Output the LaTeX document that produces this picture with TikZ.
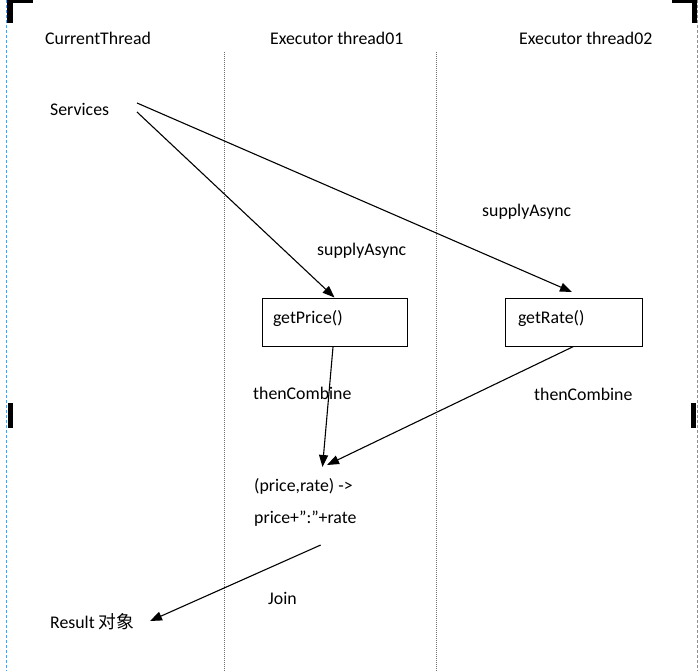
\documentclass[tikz,border=0pt]{standalone}
\usepackage{fontspec}
\setmainfont{Carlito}
\newfontfamily\cjk{Noto Sans CJK SC}
\usetikzlibrary{arrows.meta}
\definecolor{guideblue}{RGB}{91,155,213}
\definecolor{laneg}{RGB}{110,110,110}
\begin{document}
\begin{tikzpicture}[x=1pt,y=-1pt,
  txt/.style={anchor=base west,inner sep=0pt,font=\fontsize{17.8}{20}\selectfont},
  fnbox/.style={draw=black,line width=1pt,inner xsep=11pt,inner ysep=0pt,
     minimum height=48pt,align=left,text height=11pt,text depth=9pt,
     font=\fontsize{17.8}{20}\selectfont},
  conn/.style={draw=black,line width=1.1pt,-{Triangle[length=12pt,width=9pt]}},
  lane/.style={draw=laneg,line width=1pt,dash pattern=on 1pt off 1pt},
  guide/.style={draw=guideblue,line width=1pt,dash pattern=on 3pt off 2pt},
  cropmark/.style={fill=black,draw=none}]
\useasboundingbox (0,0) rectangle (698,671);
% page guides
\draw[guide] (6.5,0) -- (6.5,671);
\draw[guide] (697.2,0) -- (697.2,671);
\fill[cropmark] (7.3,0) rectangle (33.3,3.3);
\fill[cropmark] (7.3,0) rectangle (13.3,22.7);
\fill[cropmark] (672,0) rectangle (697,3.3);
\fill[cropmark] (691.5,0) rectangle (697,22.7);
\fill[cropmark] (8,403) rectangle (12.7,428);
\fill[cropmark] (691,403) rectangle (696,428);
% lanes
\draw[lane] (224,52) -- (224,671);
\draw[lane] (436,52) -- (436,671);
% headers
\node[txt] (h0) at (45,45) {CurrentThread};
\node[txt] (h1) at (270,45) {Executor thread01};
\node[txt] (h2) at (519,45) {Executor thread02};
% texts
\node[txt] (svc) at (50,116) {Services};
\node[txt] (sa2) at (482,216) {supplyAsync};
\node[txt] (sa1) at (317,255) {supplyAsync};
\node[txt] (tc1) at (253,399) {thenCombine};
\node[txt] (tc2) at (534,400) {thenCombine};
\node[txt] (lam1) at (254,491) {(price,rate) ->};
\node[txt] (lam2) at (254,523) {price+”:”+rate};
\node[txt] (join) at (268,604) {Join};
\node[txt] (res) at (50,628) {Result {\cjk 对象}};
% boxes
\node[fnbox,text width=123pt] (price) at (334.5,322) {getPrice()};
\node[fnbox,inner xsep=13pt,text width=111pt] (rate) at (573.5,322) {getRate()};
% connector ends
\coordinate (s1) at (137,112);
\coordinate (s2) at (137,103);
\coordinate (rtop) at (572,292);
\coordinate (p3) at (333,347);
\coordinate (c1) at (322.5,467);
\coordinate (c2) at (327,465);
\coordinate (j0) at (320.7,545);
\coordinate (j1) at (150,621);
% connectors
\draw[conn] (s1) -- (price.north);
\draw[conn] (s2) -- (rtop);
\draw[conn] (p3) -- (c1);
\draw[conn] (rate.south) -- (c2);
\draw[conn] (j0) -- (j1);
\end{tikzpicture}
\end{document}
